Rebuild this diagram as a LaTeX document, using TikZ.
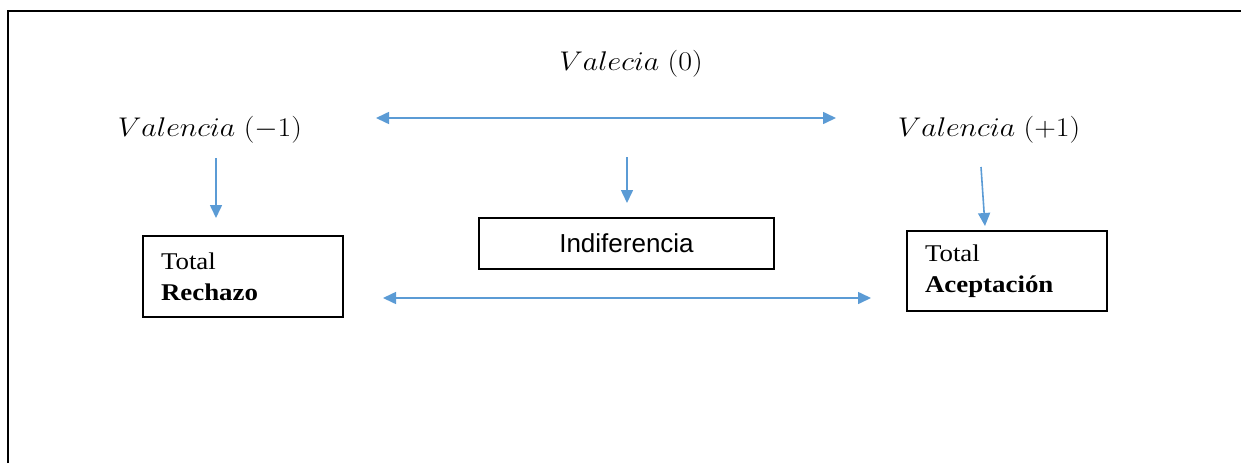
\RequirePackage{fix-cm}
\documentclass[tikz,border=0pt]{standalone}
\usepackage{fontspec}
\usepackage{graphicx}
\usetikzlibrary{arrows.meta}
\newfontfamily\boxserif[FakeStretch=1.12]{Liberation Serif}
\newfontfamily\boxsans{Liberation Sans}
\definecolor{arrowblue}{RGB}{91,155,213}
\newcommand{\vlab}[1]{\scalebox{1.11}[1]{$#1$}}
\tikzset{
  lab/.style={inner sep=0pt, font=\fontsize{27}{32}\selectfont},
  box/.style={draw, line width=1.3pt, inner sep=0pt},
  serifbox/.style={box, align=left, font=\boxserif\fontsize{24}{31}\selectfont},
  arr/.style={-{Triangle[length=13pt,width=12pt]}, line width=1.6pt, arrowblue},
  dblarr/.style={{Triangle[length=13pt,width=12pt]}-{Triangle[length=13pt,width=12pt]}, line width=1.6pt, arrowblue}
}
\begin{document}
\begin{tikzpicture}[x=1pt,y=-1pt]
  \useasboundingbox (0,0) rectangle (1241,463);
  % frame
  \draw[line width=2pt] (8,463) -- (8,11) -- (1241,11);

  % valence labels
  \node[lab] (v0) at (631,64) {\vlab{Valecia\;(0)}};
  \node[lab] (vm) at (210,130) {\vlab{Valencia\;(-1)}};
  \node[lab] (vp) at (989,130) {\vlab{Valencia\;(+1)}};

  % outcome boxes
  \node[serifbox, minimum width=200, minimum height=81, text width=164] (rech) at (243,276.5) {Total\\\textbf{Rechazo}};
  \node[box, minimum width=295, minimum height=51, font=\boxsans\fontsize{26}{30}\selectfont] (indi) at (626.5,243.5) {Indiferencia};
  \node[serifbox, minimum width=200, minimum height=80, text width=164] (acep) at (1007,271) {Total\\\textbf{Aceptación}};

  % connector ends
  \coordinate (am1) at (216,158);
  \coordinate (am2) at (216,218);
  \coordinate (a01) at (627,157);
  \coordinate (a02) at (627,203);
  \coordinate (ap1) at (981,167);
  \coordinate (ap2) at (985,226);
  \coordinate (t1) at (376,118);
  \coordinate (t2) at (836,118);
  \coordinate (b1) at (383,298);
  \coordinate (b2) at (871,298);

  \draw[arr] (am1) -- (am2);
  \draw[arr] (a01) -- (a02);
  \draw[arr] (ap1) -- (ap2);
  \draw[dblarr] (t1) -- (t2);
  \draw[dblarr] (b1) -- (b2);
\end{tikzpicture}
\end{document}
